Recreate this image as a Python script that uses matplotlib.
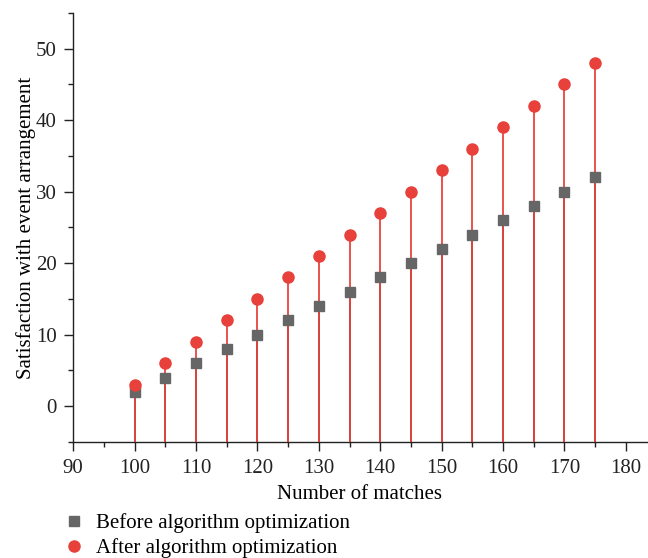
import matplotlib
matplotlib.use("Agg")
import matplotlib.pyplot as plt
from matplotlib.ticker import MultipleLocator

matches = [100, 105, 110, 115, 120, 125, 130, 135, 140, 145, 150, 155, 160, 165, 170, 175]
before = [2, 4, 6, 8, 10, 12, 14, 16, 18, 20, 22, 24, 26, 28, 30, 32]
after = [3, 6, 9, 12, 15, 18, 21, 24, 27, 30, 33, 36, 39, 42, 45, 48]

plt.rcParams['font.family'] = ['Liberation Serif', 'DejaVu Serif']
fig = plt.figure(figsize=(6.48, 5.58), dpi=100)
ax = fig.add_axes([0.113, 0.208, 0.885, 0.769])

base = -5
red = '#e8403a'
gray = '#666666'
ax.vlines(matches, base, before, colors=gray, linewidth=1.4, zorder=2)
ax.vlines(matches, base, after, colors=red, linewidth=1.4, alpha=0.9, zorder=3)
h1, = ax.plot(matches, before, 's', color=gray, markersize=6.5, zorder=4,
              label='Before algorithm optimization')
h2, = ax.plot(matches, after, 'o', color=red, markersize=8, zorder=5,
              label='After algorithm optimization')

ax.set_xlim(90, 183.4)
ax.set_ylim(-5, 55)
ax.xaxis.set_major_locator(MultipleLocator(10))
ax.xaxis.set_minor_locator(MultipleLocator(5))
ax.yaxis.set_major_locator(MultipleLocator(10))
ax.yaxis.set_minor_locator(MultipleLocator(5))
ax.spines['top'].set_visible(False)
ax.spines['right'].set_visible(False)
for s in ['left', 'bottom']:
    ax.spines[s].set_linewidth(1.0)
    ax.spines[s].set_color('#222222')
ax.tick_params(which='major', direction='out', length=6.5, width=1.0, labelsize=15, colors='#222222')
ax.tick_params(which='minor', direction='out', length=3.5, width=1.0, colors='#222222')
ax.tick_params(axis='x', which='major', pad=6)
ax.tick_params(axis='y', which='major', pad=5.5)
ax.set_xlabel('Number of matches', fontsize=15, labelpad=5)
ax.set_ylabel('Satisfaction with event arrangement', fontsize=15, labelpad=0)

fig.legend(handles=[h1, h2], loc='upper left', bbox_to_anchor=(0.1, 0.08),
           frameon=False, fontsize=15, handlelength=0.9, handletextpad=0.6,
           labelspacing=0.25, borderaxespad=0, borderpad=0)

fig.savefig('out.png', dpi=100)
